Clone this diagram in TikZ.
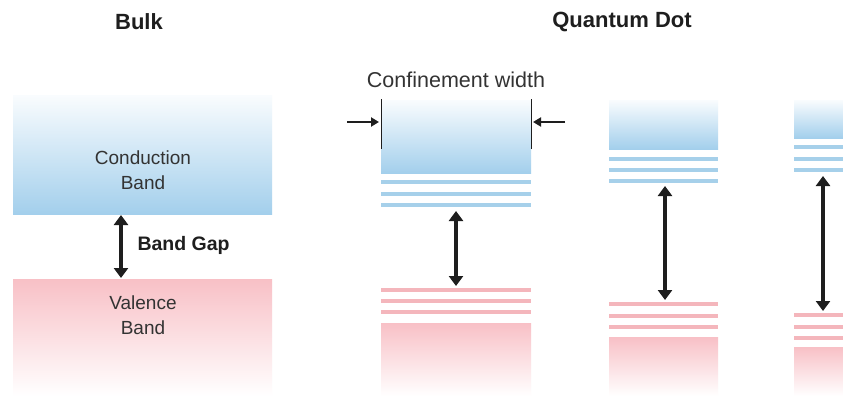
\documentclass[tikz,border=0pt]{standalone}
\usepackage{fontspec}
\setmainfont{Liberation Sans}
\usetikzlibrary{arrows.meta}
\definecolor{cband}{HTML}{A3CFEC}
\definecolor{vband}{HTML}{F8C0C6}
\definecolor{clevel}{HTML}{A6D0EA}
\definecolor{vlevel}{HTML}{F4B6BC}
\definecolor{ink}{HTML}{1E1E1E}
\definecolor{txt}{HTML}{333333}
\begin{document}
\begin{tikzpicture}[x=1pt,y=-1pt,
  cbox/.style={rectangle, inner sep=0pt, draw=none, top color=cband!6, bottom color=cband},
  vbox/.style={rectangle, inner sep=0pt, draw=none, top color=vband, bottom color=white},
  clev/.style={draw=clevel, line width=4pt},
  vlev/.style={draw=vlevel, line width=4pt},
  gaparrow/.style={draw=ink, line width=4pt,
    {Triangle[width=14pt,length=10pt]}-{Triangle[width=14pt,length=10pt]}},
  widtharrow/.style={draw=ink, line width=2pt, -{Triangle[width=9pt,length=8pt]}},
  wall/.style={draw=ink, line width=1pt},
  title/.style={font=\bfseries\fontsize{22}{26}\selectfont, text=ink},
  bandtext/.style={font=\fontsize{19}{25}\selectfont, text=txt, align=center},
  gaptext/.style={font=\bfseries\fontsize{19.5}{24}\selectfont, text=ink, anchor=west},
]
\useasboundingbox (0,0) rectangle (843,396);
\clip (0,0) rectangle (843,396);
\fill[white] (0,0) rectangle (843,396);

% titles
\node[title] (tbulk) at (139,22) {Bulk};
\node[title] (tqd) at (622,22) {Quantum Dot};

% ---------- bulk ----------
\node[cbox, minimum width=259pt, minimum height=119pt] (bc) at (142.5,154.5) {};
\node[vbox, minimum width=259pt, minimum height=117pt] (bv) at (142.5,337.5) {};
\node[bandtext] (bctext) at (143,170.5) {Conduction\\Band};
\node[bandtext] (bvtext) at (143,315.5) {Valence\\Band};
\coordinate (g0t) at (121,215);
\coordinate (g0b) at (121,278);
\draw[gaparrow] (g0t) -- (g0b);
\node[gaptext] (gap) at (134,245) {Band Gap};

% ---------- quantum dot 1 ----------
\node[cbox, minimum width=150pt, minimum height=73pt] (q1c) at (456,136.5) {};
\node[vbox, minimum width=150pt, minimum height=73pt] (q1v) at (456,359.5) {};
\foreach \y in {182,193.5,204.5} \draw[clev] (381,\y) -- (531,\y);
\foreach \y in {290,301,312} \draw[vlev] (381,\y) -- (531,\y);
\coordinate (g1t) at (456,211);
\coordinate (g1b) at (456,286);
\draw[gaparrow] (g1t) -- (g1b);

% confinement width marker
\node[font=\fontsize{21.5}{26}\selectfont, text=txt] (cw) at (456,80) {Confinement width};
\coordinate (wl1) at (381,99);  \coordinate (wl2) at (381,149);
\coordinate (wr1) at (531,99);  \coordinate (wr2) at (531,149);
\draw[wall] (wl1) -- (wl2);
\draw[wall] (wr1) -- (wr2);
\coordinate (al) at (347,122); \coordinate (alt) at (379,122);
\coordinate (ar) at (565,122); \coordinate (art) at (533,122);
\draw[widtharrow] (al) -- (alt);
\draw[widtharrow] (ar) -- (art);

% ---------- quantum dot 2 ----------
\node[cbox, minimum width=109pt, minimum height=49pt] (q2c) at (663.5,124.5) {};
\node[vbox, minimum width=109pt, minimum height=59pt] (q2v) at (663.5,366.5) {};
\foreach \y in {159,170,181} \draw[clev] (609,\y) -- (718,\y);
\foreach \y in {304,316,327} \draw[vlev] (609,\y) -- (718,\y);
\coordinate (g2t) at (665,186);
\coordinate (g2b) at (665,300);
\draw[gaparrow] (g2t) -- (g2b);

% ---------- quantum dot 3 (runs off the right edge) ----------
\node[cbox, minimum width=80pt, minimum height=38pt] (q3c) at (834,119) {};
\node[vbox, minimum width=80pt, minimum height=49pt] (q3v) at (834,371.5) {};
\foreach \y in {147,159,170} \draw[clev] (794,\y) -- (874,\y);
\foreach \y in {315,327,338} \draw[vlev] (794,\y) -- (874,\y);
\coordinate (g3t) at (823,176);
\coordinate (g3b) at (823,311);
\draw[gaparrow] (g3t) -- (g3b);
\end{tikzpicture}
\end{document}
